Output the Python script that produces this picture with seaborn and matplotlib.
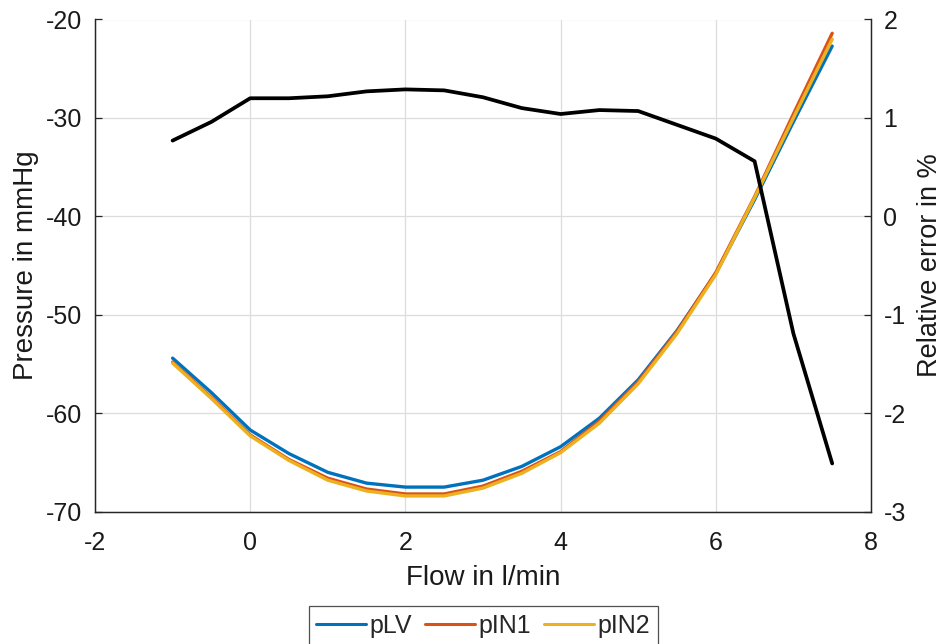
import matplotlib as mtl
mtl.use('Agg')
import matplotlib.pyplot as plt
import numpy as np
import pandas as pd
import seaborn as sns

# data
flow = [-1, -0.5, 0, 0.5, 1, 1.5, 2, 2.5, 3, 3.5, 4, 4.5, 5, 5.5, 6, 6.5, 7, 7.5]
pLV = [-54.4, -57.9, -61.7, -64.1, -66.0, -67.1, -67.5, -67.5, -66.8, -65.4, -63.4, -60.5, -56.6, -51.6, -45.8, -38.3, -30.4, -22.7]
pIN1 = [-54.8, -58.4, -62.2, -64.7, -66.6, -67.7, -68.2, -68.2, -67.4, -65.9, -63.9, -60.8, -56.8, -51.7, -45.7, -38.0, -29.6, -21.4]
pIN2 = [-54.9, -58.5, -62.3, -64.8, -66.8, -67.9, -68.4, -68.4, -67.6, -66.1, -64.0, -61.0, -57.0, -51.9, -45.9, -38.1, -30.0, -22.0]
rel_err = [0.77, 0.96, 1.20, 1.20, 1.22, 1.27, 1.29, 1.28, 1.21, 1.10, 1.04, 1.08, 1.07, 0.93, 0.79, 0.56, -1.19, -2.51]

names = ["pLV", "pIN1", "pIN2"]
colors = ["#0072BD", "#D95319", "#EDB120"]
xticks = [-2, 0, 2, 4, 6, 8]
yticks_left = [-70, -60, -50, -40, -30, -20]
yticks_right = [-3, -2, -1, 0, 1, 2]

df = pd.DataFrame({"flow": flow, "pLV": pLV, "pIN1": pIN1, "pIN2": pIN2})
long = df.melt(id_vars="flow", var_name="signal", value_name="pressure")
df_err = pd.DataFrame({"flow": flow, "err": rel_err})

sns.set_style("white")
plt.rcParams['font.family'] = ['Liberation Sans', 'DejaVu Sans']
axcol = "#262626"
txtcol = "#1a1a1a"

fig = plt.figure(figsize=(9.42, 6.44), dpi=100)
ax = fig.add_axes([95/942, 1-511.7/644, (871-95)/942, (511.7-19.5)/644])

sns.lineplot(data=long, x="flow", y="pressure", hue="signal", hue_order=names,
	palette=colors, linewidth=2.4, ax=ax, legend=False)

ax2 = ax.twinx()
sns.lineplot(data=df_err, x="flow", y="err", color="black", linewidth=2.7, ax=ax2)

ax.set_xlim(-2, 8)
ax.set_ylim(-70, -20)
ax2.set_ylim(-3, 2)
ax.set_xticks(xticks)
ax.set_yticks(yticks_left)
ax2.set_yticks(yticks_right)
ax.set_xticklabels([str(t) for t in xticks])
ax.set_yticklabels([str(t) for t in yticks_left])
ax2.set_yticklabels([str(t) for t in yticks_right])

ax.grid(True, color="#dcdcdc", linewidth=0.9)
ax.set_axisbelow(True)

for a in (ax, ax2):
	a.tick_params(direction="in", length=5, width=0.9, color=axcol, labelsize=18, labelcolor=txtcol)
	a.spines["top"].set_visible(False)
	for s in ("left", "right", "bottom"):
		a.spines[s].set_color(axcol)
		a.spines[s].set_linewidth(0.9)
ax.tick_params(axis="x", pad=14)
ax.tick_params(axis="y", pad=9)
ax2.tick_params(axis="y", pad=9)

ax.set_xlabel("Flow in l/min", fontsize=20, color=txtcol, labelpad=7)
ax.set_ylabel("Pressure in mmHg", fontsize=20, color=txtcol, labelpad=5)
ax2.set_ylabel("Relative error in %", fontsize=19.5, color=txtcol, labelpad=8)
ax2.set_xlabel("")

handles = [plt.Line2D([], [], color=c, linewidth=2.2) for c in colors]
leg = fig.legend(handles, names, loc="upper center", bbox_to_anchor=(483/942, 1-606/644),
	ncol=3, fontsize=18, frameon=True, fancybox=False, handlelength=2.0,
	handletextpad=0.15, columnspacing=0.5, borderpad=0.3, borderaxespad=0)
leg.get_frame().set_edgecolor(axcol)
leg.get_frame().set_linewidth(0.9)

plt.savefig("out.png", dpi=100)
